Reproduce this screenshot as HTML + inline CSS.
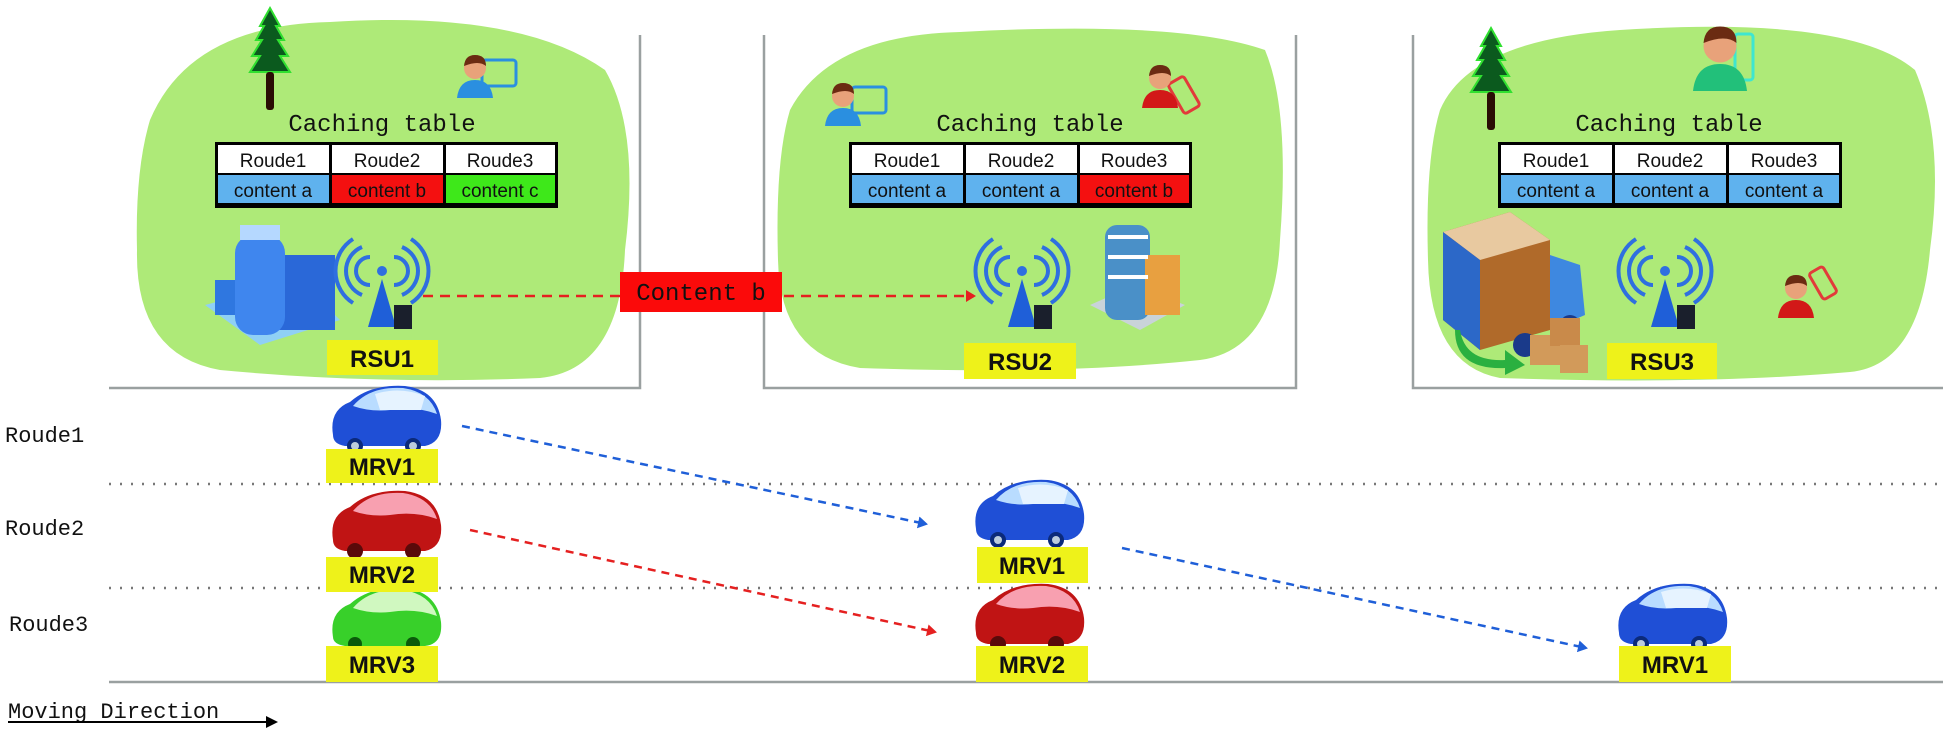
<!DOCTYPE html>
<html><head><meta charset="utf-8"><style>
html,body{margin:0;padding:0;background:#fff;}
svg{display:block;}
.t{font-family:"Liberation Mono",monospace;font-size:24px;fill:#111;}
.c{font-family:"Liberation Sans",sans-serif;font-size:19px;fill:#111;}
.l{font-family:"Liberation Sans",sans-serif;font-size:24px;font-weight:bold;fill:#111;}
</style></head><body>
<svg width="1950" height="737" viewBox="0 0 1950 737" xmlns="http://www.w3.org/2000/svg">
<defs>
<marker id="ab" markerWidth="10" markerHeight="12" refX="8" refY="6" orient="auto" markerUnits="userSpaceOnUse"><path d="M0,0 L10,6 L0,12 z" fill="#1f5fd8"/></marker>
<marker id="ar" markerWidth="10" markerHeight="12" refX="8" refY="6" orient="auto" markerUnits="userSpaceOnUse"><path d="M0,0 L10,6 L0,12 z" fill="#e52020"/></marker>
<marker id="ak" markerWidth="12" markerHeight="12" refX="10" refY="6" orient="auto" markerUnits="userSpaceOnUse"><path d="M0,0 L12,6 L0,12 z" fill="#000"/></marker>
<g id="ant">
 <g fill="none" stroke="#2f6fe0" stroke-width="4">
  <path d="M28,22 A14,14 0 0 0 28,50"/><path d="M52,22 A14,14 0 0 1 52,50"/>
  <path d="M20,12 A26,26 0 0 0 20,60"/><path d="M60,12 A26,26 0 0 1 60,60"/>
  <path d="M11,4 A38,38 0 0 0 11,68"/><path d="M69,4 A38,38 0 0 1 69,68"/>
 </g>
 <circle cx="40" cy="36" r="5" fill="#2f6fe0"/>
 <path d="M40,44 L26,92 L54,92 z" fill="#1f5fd8"/>
 <rect x="52" y="70" width="18" height="24" fill="#1a1f2c"/>
</g>
<g id="car">
 <path d="M8,55 Q4,30 25,22 Q45,4 80,6 Q112,10 116,40 Q118,62 100,66 L20,66 Q8,64 8,55z" fill="#1f4fd6"/>
 <path d="M28,26 Q45,6 78,8 Q105,12 112,34 Q90,26 65,30 Q45,32 28,26z" fill="#b9dcff"/>
 <path d="M50,14 Q75,6 100,16 L96,30 L55,30z" fill="#e6f3ff"/>
 <circle cx="30" cy="66" r="8" fill="#0b2a7a"/><circle cx="88" cy="66" r="8" fill="#0b2a7a"/>
 <circle cx="30" cy="66" r="4" fill="#bcd"/><circle cx="88" cy="66" r="4" fill="#bcd"/>
</g>
<g id="rcar">
 <path d="M8,55 Q4,30 25,22 Q45,4 80,6 Q112,10 116,40 Q118,62 100,66 L20,66 Q8,64 8,55z" fill="#c01414"/>
 <path d="M28,26 Q45,6 78,8 Q105,12 112,34 Q90,26 65,30 Q45,32 28,26z" fill="#f8a0b0"/>
 <circle cx="30" cy="66" r="8" fill="#5a0a0a"/><circle cx="88" cy="66" r="8" fill="#5a0a0a"/>
</g>
<g id="person">
 <circle cx="20" cy="16" r="11" fill="#e8a27a"/>
 <path d="M9,14 Q10,3 20,3 Q31,3 31,14 Q24,8 9,14z" fill="#6b2b12"/>
 <path d="M2,46 Q4,28 20,28 Q36,28 38,46z" fill="currentColor"/>
</g>
<g id="tree">
 <path d="M20,0 L30,18 L26,18 L34,32 L28,32 L38,48 L30,48 L40,64 L0,64 L10,48 L2,48 L12,32 L6,32 L14,18 L10,18z" fill="#0b5a1e" stroke="#30e030" stroke-width="2"/>
 <rect x="16" y="64" width="8" height="38" rx="3" fill="#2a0d05"/>
</g>
</defs>

<path d="M150,120 Q190,25 330,22 Q520,10 605,70 Q640,130 625,250 Q620,370 540,378 Q380,385 220,370 Q135,355 137,250 Q135,170 150,120z" fill="#aeea78"/>
<path d="M790,110 Q830,35 960,32 Q1180,20 1265,50 Q1290,110 1280,240 Q1275,350 1200,360 Q1060,375 860,368 Q780,355 778,260 Q775,160 790,110z" fill="#aeea78"/>
<path d="M1440,110 Q1470,40 1620,30 Q1850,15 1915,70 Q1945,140 1930,250 Q1920,365 1850,372 Q1700,385 1500,378 Q1430,365 1428,260 Q1425,160 1440,110z" fill="#aeea78"/>

<g stroke="#9aa0a0" stroke-width="2.5" fill="none">
<path d="M109,388 L640,388 L640,35"/>
<path d="M764,35 L764,388 L1296,388 L1296,35"/>
<path d="M1413,35 L1413,388 L1943,388"/>
</g>

<g>
<text x="382" y="131" class="t" text-anchor="middle">Caching table</text>
<rect x="215" y="142" width="343" height="66" fill="#000"/>
<rect x="218" y="145" width="111" height="28" fill="#fff"/><rect x="332" y="145" width="111" height="28" fill="#fff"/><rect x="446" y="145" width="109" height="28" fill="#fff"/>
<rect x="218" y="175" width="111" height="28" fill="#5fb2ee"/><rect x="332" y="175" width="111" height="28" fill="#f41010"/><rect x="446" y="175" width="109" height="28" fill="#3ee81a"/>
<text x="273" y="167" class="c" text-anchor="middle">Roude1</text><text x="387" y="167" class="c" text-anchor="middle">Roude2</text><text x="500" y="167" class="c" text-anchor="middle">Roude3</text>
<text x="273" y="197" class="c" text-anchor="middle">content a</text><text x="387" y="197" class="c" text-anchor="middle">content b</text><text x="500" y="197" class="c" text-anchor="middle">content c</text>
</g>
<g>
<text x="1030" y="131" class="t" text-anchor="middle">Caching table</text>
<rect x="849" y="142" width="343" height="66" fill="#000"/>
<rect x="852" y="145" width="111" height="28" fill="#fff"/><rect x="966" y="145" width="111" height="28" fill="#fff"/><rect x="1080" y="145" width="109" height="28" fill="#fff"/>
<rect x="852" y="175" width="111" height="28" fill="#5fb2ee"/><rect x="966" y="175" width="111" height="28" fill="#5fb2ee"/><rect x="1080" y="175" width="109" height="28" fill="#f41010"/>
<text x="907" y="167" class="c" text-anchor="middle">Roude1</text><text x="1021" y="167" class="c" text-anchor="middle">Roude2</text><text x="1134" y="167" class="c" text-anchor="middle">Roude3</text>
<text x="907" y="197" class="c" text-anchor="middle">content a</text><text x="1021" y="197" class="c" text-anchor="middle">content a</text><text x="1134" y="197" class="c" text-anchor="middle">content b</text>
</g>
<g>
<text x="1669" y="131" class="t" text-anchor="middle">Caching table</text>
<rect x="1498" y="142" width="344" height="66" fill="#000"/>
<rect x="1501" y="145" width="111" height="28" fill="#fff"/><rect x="1615" y="145" width="111" height="28" fill="#fff"/><rect x="1729" y="145" width="110" height="28" fill="#fff"/>
<rect x="1501" y="175" width="111" height="28" fill="#5fb2ee"/><rect x="1615" y="175" width="111" height="28" fill="#5fb2ee"/><rect x="1729" y="175" width="110" height="28" fill="#5fb2ee"/>
<text x="1556" y="167" class="c" text-anchor="middle">Roude1</text><text x="1670" y="167" class="c" text-anchor="middle">Roude2</text><text x="1784" y="167" class="c" text-anchor="middle">Roude3</text>
<text x="1556" y="197" class="c" text-anchor="middle">content a</text><text x="1670" y="197" class="c" text-anchor="middle">content a</text><text x="1784" y="197" class="c" text-anchor="middle">content a</text>
</g>

<use href="#tree" x="250" y="8"/>
<use href="#tree" x="1471" y="28"/>

<rect x="482" y="60" width="34" height="26" rx="3" fill="none" stroke="#2a8fe0" stroke-width="3"/>
<use href="#person" x="455" y="52" color="#2a8fe0"/>
<rect x="852" y="87" width="34" height="26" rx="3" fill="none" stroke="#2a8fe0" stroke-width="3"/>
<use href="#person" x="823" y="80" color="#2a8fe0"/>
<rect x="1175" y="78" width="18" height="34" rx="3" fill="none" stroke="#e23a3a" stroke-width="3" transform="rotate(-30 1184 95)"/>
<use href="#person" x="1140" y="62" color="#d21818"/>
<rect x="1735" y="34" width="18" height="46" rx="3" fill="none" stroke="#3ee6d0" stroke-width="3"/>
<use href="#person" x="1690" y="22" color="#22c07a" transform="translate(1690 22) scale(1.5) translate(-1690 -22)"/>
<rect x="1815" y="268" width="16" height="30" rx="3" fill="none" stroke="#e23a3a" stroke-width="3" transform="rotate(-30 1823 283)"/>
<use href="#person" x="1776" y="272" color="#d21818"/>

<g>
<path d="M205,305 L260,345 L340,320 L300,280 z" fill="#8fd0f5"/>
<rect x="275" y="255" width="60" height="75" fill="#2a68d8"/>
<rect x="235" y="235" width="50" height="100" rx="18" fill="#3f86ee"/>
<rect x="240" y="225" width="40" height="15" fill="#b5d8ff"/>
<rect x="215" y="280" width="20" height="35" fill="#2f77e0"/>
</g>
<g>
<path d="M1090,305 L1140,330 L1185,305 L1135,285 z" fill="#c9d3d9"/>
<rect x="1105" y="225" width="45" height="95" rx="12" fill="#4a90c8"/>
<rect x="1145" y="255" width="35" height="60" fill="#e8a040"/>
<rect x="1108" y="235" width="40" height="4" fill="#fff"/><rect x="1108" y="255" width="40" height="4" fill="#fff"/><rect x="1108" y="275" width="40" height="4" fill="#fff"/>
</g>
<g>
<path d="M1443,232 L1510,212 L1550,240 L1550,330 L1480,350 L1443,320z" fill="#b06a2a"/>
<path d="M1443,232 L1510,212 L1550,240 L1480,260z" fill="#e8c9a0"/>
<path d="M1443,232 L1480,260 L1480,350 L1443,320z" fill="#2c68c8"/>
<path d="M1550,255 L1580,265 L1585,315 L1550,330z" fill="#3e88e0"/>
<circle cx="1525" cy="345" r="12" fill="#1a3a8a"/>
<circle cx="1570" cy="325" r="10" fill="#1a3a8a"/>
<rect x="1530" y="335" width="30" height="30" fill="#d29a5a"/><rect x="1550" y="318" width="30" height="28" fill="#c98a4a"/><rect x="1560" y="345" width="28" height="28" fill="#d29a5a"/>
<path d="M1460,330 Q1465,362 1505,360 L1505,350 L1525,365 L1505,375 L1505,368 Q1455,370 1455,330z" fill="#2ab040"/>
</g>

<use href="#ant" x="342" y="235"/>
<use href="#ant" x="982" y="235"/>
<use href="#ant" x="1625" y="235"/>

<rect x="327" y="340" width="111" height="35" fill="#eef21a"/><text x="382" y="367" class="l" text-anchor="middle">RSU1</text>
<rect x="964" y="343" width="112" height="36" fill="#eef21a"/><text x="1020" y="370" class="l" text-anchor="middle">RSU2</text>
<rect x="1607" y="343" width="110" height="36" fill="#eef21a"/><text x="1662" y="370" class="l" text-anchor="middle">RSU3</text>

<line x1="423" y1="296" x2="620" y2="296" stroke="#e52020" stroke-width="2.5" stroke-dasharray="10,7"/>
<rect x="620" y="272" width="162" height="40" fill="#fb0a0a"/>
<text x="701" y="300" class="t" text-anchor="middle">Content b</text>
<line x1="784" y1="296" x2="974" y2="296" stroke="#e52020" stroke-width="2.5" stroke-dasharray="10,7" marker-end="url(#ar)"/>

<line x1="109" y1="484" x2="1943" y2="484" stroke="#777" stroke-width="2.5" stroke-dasharray="2,9"/>
<line x1="109" y1="588" x2="1943" y2="588" stroke="#777" stroke-width="2.5" stroke-dasharray="2,9"/>
<line x1="109" y1="682" x2="1943" y2="682" stroke="#9aa0a0" stroke-width="2.5"/>
<text x="5" y="442" class="t" style="font-size:22px">Roude1</text>
<text x="5" y="535" class="t" style="font-size:22px">Roude2</text>
<text x="9" y="631" class="t" style="font-size:22px">Roude3</text>
<text x="8" y="718" class="t" style="font-size:22px">Moving Direction</text>
<line x1="8" y1="722" x2="276" y2="722" stroke="#000" stroke-width="2" marker-end="url(#ak)"/>

<use href="#car" x="325" y="380"/>
<use href="#rcar" x="325" y="485"/>
<g transform="translate(325 582)"><path d="M8,55 Q4,30 25,22 Q45,4 80,6 Q112,10 116,40 Q118,62 100,64 L20,64 Q8,62 8,55z" fill="#38d02a"/><path d="M28,26 Q45,6 78,8 Q105,12 112,34 Q90,26 65,30 Q45,32 28,26z" fill="#d0f8c0"/><circle cx="30" cy="62" r="7" fill="#0a5a0a"/><circle cx="88" cy="62" r="7" fill="#0a5a0a"/></g>
<use href="#car" x="968" y="474"/>
<use href="#rcar" x="968" y="578"/>
<use href="#car" x="1611" y="578"/>

<rect x="326" y="449" width="112" height="34" fill="#eef21a"/><text x="382" y="475" class="l" text-anchor="middle">MRV1</text>
<rect x="326" y="557" width="112" height="35" fill="#eef21a"/><text x="382" y="583" class="l" text-anchor="middle">MRV2</text>
<rect x="326" y="646" width="112" height="36" fill="#eef21a"/><text x="382" y="673" class="l" text-anchor="middle">MRV3</text>
<rect x="977" y="547" width="111" height="36" fill="#eef21a"/><text x="1032" y="574" class="l" text-anchor="middle">MRV1</text>
<rect x="976" y="646" width="112" height="36" fill="#eef21a"/><text x="1032" y="673" class="l" text-anchor="middle">MRV2</text>
<rect x="1619" y="646" width="112" height="36" fill="#eef21a"/><text x="1675" y="673" class="l" text-anchor="middle">MRV1</text>

<line x1="462" y1="426" x2="926" y2="524" stroke="#1f5fd8" stroke-width="2.5" stroke-dasharray="8,6" marker-end="url(#ab)"/>
<line x1="470" y1="530" x2="935" y2="632" stroke="#e52020" stroke-width="2.5" stroke-dasharray="8,6" marker-end="url(#ar)"/>
<line x1="1122" y1="548" x2="1586" y2="648" stroke="#1f5fd8" stroke-width="2.5" stroke-dasharray="8,6" marker-end="url(#ab)"/>
</svg>
</body></html>
